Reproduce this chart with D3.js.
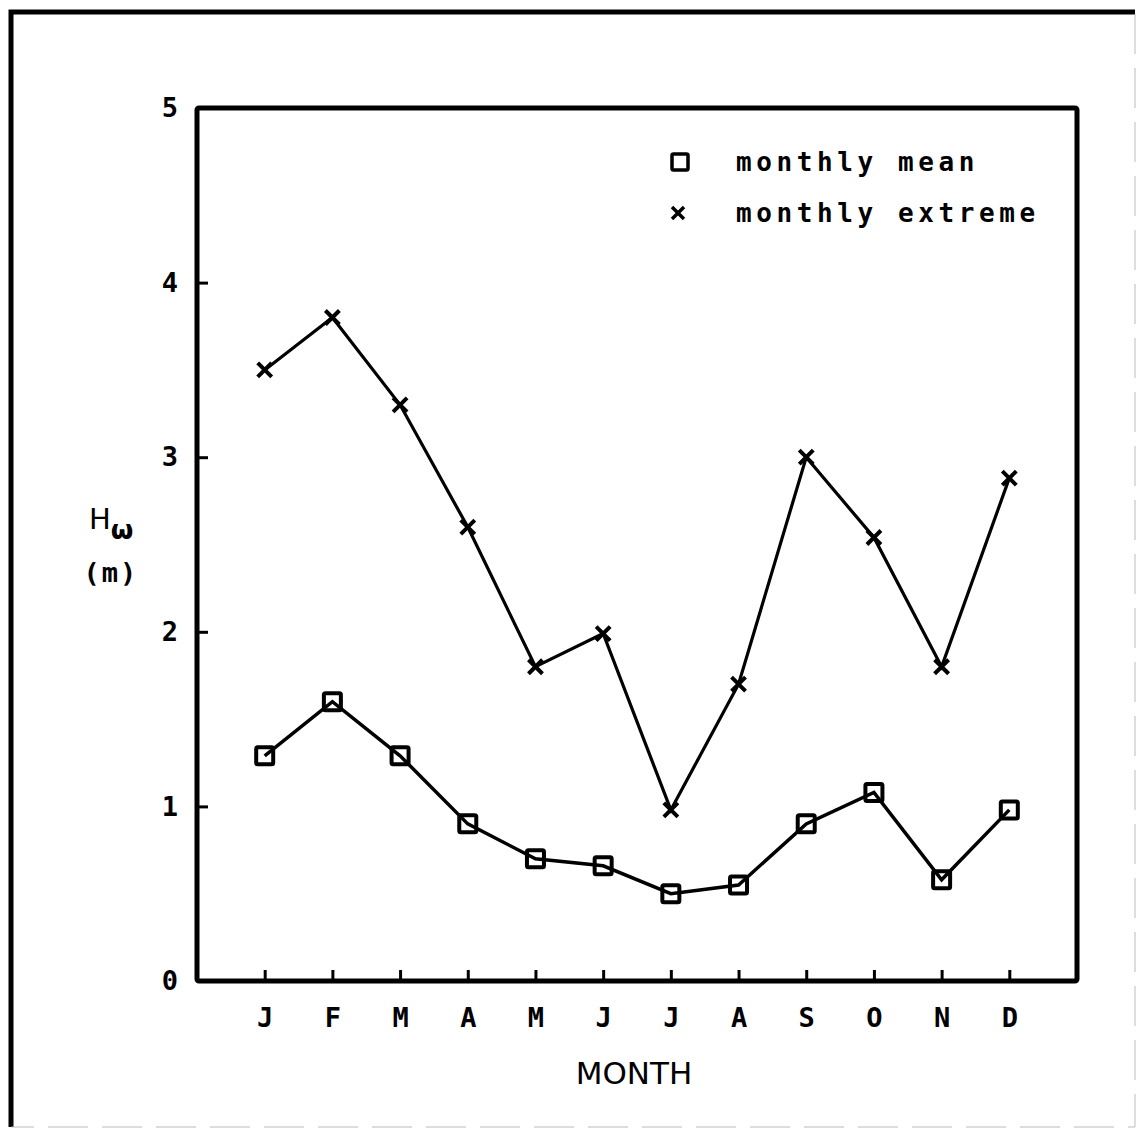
<!DOCTYPE html>
<html>
<head>
<meta charset="utf-8">
<script src="https://cdn.jsdelivr.net/npm/d3@7"></script>
<style>
  html, body { margin: 0; padding: 0; background: #fff; }
  svg { display: block; }
</style>
</head>
<body>
<script>
// Monthly wave height: mean and extreme per month
const months = ["J", "F", "M", "A", "M", "J", "J", "A", "S", "O", "N", "D"];
const monthlyMean = [1.29, 1.60, 1.29, 0.90, 0.70, 0.66, 0.50, 0.55, 0.90, 1.08, 0.58, 0.98];
const monthlyExtreme = [3.50, 3.80, 3.30, 2.60, 1.80, 1.99, 0.98, 1.70, 3.00, 2.54, 1.80, 2.88];
const yTicks = [0, 1, 2, 3, 4, 5];
const yTickLabels = ["0", "1", "2", "3", "4", "5"];
const legendLabels = ["monthly mean", "monthly extreme"];

const W = 1137, H = 1129;
const plot = { left: 197, top: 108, right: 1077, bottom: 981 };

const svg = d3.select("body").append("svg")
  .attr("width", W).attr("height", H);

// page frame
svg.append("path")
  .attr("d", `M11,1127 L11,12 L1135,12`)
  .attr("fill", "none").attr("stroke", "#000").attr("stroke-width", 5);
svg.append("path")
  .attr("d", `M1135,14 L1135,1127 L11,1127`)
  .attr("fill", "none").attr("stroke", "#bbb").attr("stroke-width", 1)
  .attr("stroke-dasharray", "40 14");

const x = d3.scaleLinear().domain([0, 13]).range([plot.left, plot.right]);
const y = d3.scaleLinear().domain([0, 5]).range([plot.bottom, plot.top]);

const monoFont = "'DejaVu Sans Mono', monospace";

// x axis: ticks pointing into the plot
const xAxis = d3.axisBottom(x)
  .tickValues(d3.range(1, 13))
  .tickFormat(d => months[d - 1])
  .tickSizeInner(-11).tickSizeOuter(0).tickPadding(27);
const gx = svg.append("g")
  .attr("transform", `translate(0,${plot.bottom})`)
  .call(xAxis);
gx.select(".domain").remove();
gx.selectAll(".tick line").attr("stroke", "#000").attr("stroke-width", 3);
gx.selectAll(".tick text")
  .attr("font-family", monoFont).attr("font-weight", "bold")
  .attr("font-size", 27).attr("fill", "#000").attr("dy", "0.71em");

// y axis: ticks pointing into the plot
const yAxis = d3.axisLeft(y)
  .tickValues(yTicks)
  .tickFormat((d, i) => yTickLabels[i])
  .tickSizeInner(-11).tickSizeOuter(0).tickPadding(19);
const gy = svg.append("g")
  .attr("transform", `translate(${plot.left},0)`)
  .call(yAxis);
gy.select(".domain").remove();
gy.selectAll(".tick line").attr("stroke", "#000").attr("stroke-width", 3)
  .filter(d => d === 0 || d === 5).remove();
gy.selectAll(".tick text")
  .attr("font-family", monoFont).attr("font-weight", "bold")
  .attr("font-size", 27).attr("fill", "#000");

// plot frame
svg.append("rect")
  .attr("x", plot.left).attr("y", plot.top)
  .attr("width", plot.right - plot.left).attr("height", plot.bottom - plot.top)
  .attr("rx", 2)
  .attr("fill", "none").attr("stroke", "#000").attr("stroke-width", 5);

const line = d3.line()
  .x((d, i) => x(i + 1))
  .y(d => y(d));

// extreme series
svg.append("path").datum(monthlyExtreme)
  .attr("d", line)
  .attr("fill", "none").attr("stroke", "#000").attr("stroke-width", 3.2);
const cross = s => `M${-s},${-s}L${s},${s}M${-s},${s}L${s},${-s}`;
svg.append("g").selectAll("path").data(monthlyExtreme).join("path")
  .attr("transform", (d, i) => `translate(${x(i + 1)},${y(d)})`)
  .attr("d", cross(7))
  .attr("stroke", "#000").attr("stroke-width", 4).attr("fill", "none");

// mean series
svg.append("path").datum(monthlyMean)
  .attr("d", line)
  .attr("fill", "none").attr("stroke", "#000").attr("stroke-width", 3.5);
svg.append("g").selectAll("rect").data(monthlyMean).join("rect")
  .attr("x", (d, i) => x(i + 1) - 8.5).attr("y", d => y(d) - 8.5)
  .attr("width", 17).attr("height", 17).attr("rx", 1.5)
  .attr("stroke", "#000").attr("stroke-width", 4).attr("fill", "none");

// legend
const legend = svg.append("g");
legend.append("rect")
  .attr("x", 672).attr("y", 154).attr("width", 16).attr("height", 16).attr("rx", 1.5)
  .attr("stroke", "#000").attr("stroke-width", 3.5).attr("fill", "none");
legend.append("path")
  .attr("transform", "translate(678,213)")
  .attr("d", cross(6))
  .attr("stroke", "#000").attr("stroke-width", 3.5).attr("fill", "none");
legend.selectAll("text").data(legendLabels).join("text")
  .attr("x", 736).attr("y", (d, i) => 171 + i * 51)
  .attr("font-family", monoFont).attr("font-weight", "bold")
  .attr("font-size", 26).attr("letter-spacing", 4.6)
  .attr("fill", "#000")
  .text(d => d);

// y title
const yt = svg.append("text")
  .attr("x", 89).attr("y", 529)
  .attr("font-family", "'DejaVu Sans', sans-serif")
  .attr("font-size", 29).attr("fill", "#000");
yt.append("tspan").text("H");
yt.append("tspan").attr("dy", 10).attr("font-size", 26).attr("font-weight", "bold").text("ω");
svg.append("text")
  .attr("x", 111).attr("y", 582).attr("text-anchor", "middle")
  .attr("font-family", monoFont).attr("font-weight", "bold")
  .attr("font-size", 27).attr("letter-spacing", 2)
  .attr("fill", "#000").text("(m)");

// x title
svg.append("text")
  .attr("x", 634).attr("y", 1084).attr("text-anchor", "middle")
  .attr("font-family", "'DejaVu Sans', sans-serif")
  .attr("font-size", 31).attr("fill", "#000").text("MONTH");
</script>
</body>
</html>
